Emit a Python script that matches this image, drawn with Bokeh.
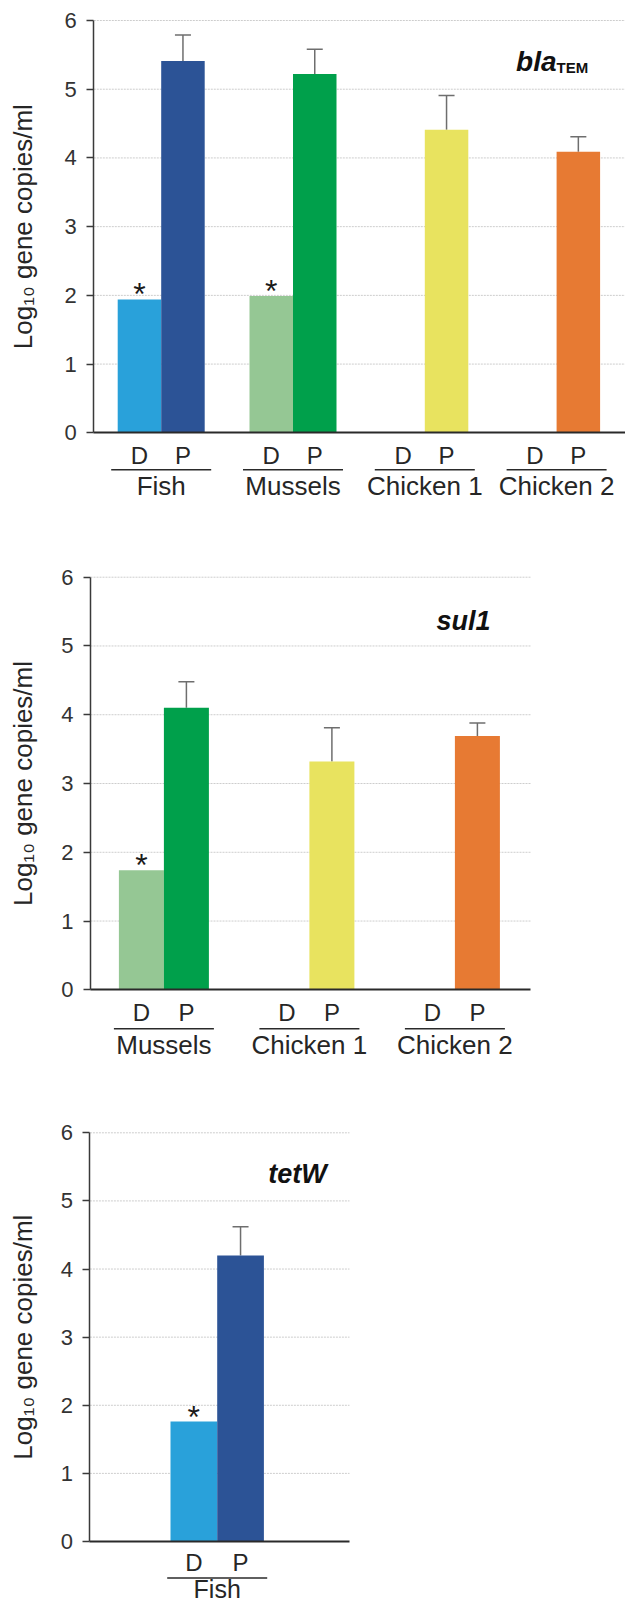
import math
from bokeh.plotting import figure
from bokeh.models import Range1d, FixedTicker, Whisker, TeeHead, ColumnDataSource, LinearAxis
from bokeh.layouts import column
from bokeh.embed import file_html
from bokeh.resources import INLINE
from bokeh.core.properties import value

# ---------------- data ----------------
# blaTEM panel
bla_groups = ["Fish", "Mussels", "Chicken 1", "Chicken 2"]
bla_D = [1.94, 1.99, None, None]          # None = not detected
bla_P = [5.41, 5.22, 4.41, 4.09]
bla_P_err = [0.38, 0.36, 0.50, 0.22]
bla_D_star = [True, True, False, False]

# sul1 panel
sul1_groups = ["Mussels", "Chicken 1", "Chicken 2"]
sul1_D = [1.74, None, None]
sul1_P = [4.10, 3.32, 3.69]
sul1_P_err = [0.38, 0.49, 0.19]
sul1_D_star = [True, False, False]

# tetW panel
tetW_groups = ["Fish"]
tetW_D = [1.76]
tetW_P = [4.20]
tetW_P_err = [0.42]
tetW_D_star = [True]

group_D_color = {"Fish": "#29a1da", "Mussels": "#95c794", "Chicken 1": "#e8e35f", "Chicken 2": "#e77a33"}
group_P_color = {"Fish": "#2c5396", "Mussels": "#00a04b", "Chicken 1": "#e8e35f", "Chicken 2": "#e77a33"}

y_ticks = [0, 1, 2, 3, 4, 5, 6]
sub_labels = ["D", "P"]
y_label = "Log\u2081\u2080 gene copies/ml"

FONT = "Liberation Sans"
TXT = "#262626"
W = 625


def make_chart(groups, d_vals, p_vals, p_errs, stars, title_main, title_sub,
               S, center0_px, axis_px, right_px, v6_px, v0_px, top_px, H, bar_px,
               title_px, title_py, d_below, u_below, g_below, g_size="26px"):
    # layout geometry (page pixels -> data units)
    U = (v0_px - v6_px) / 6.0
    x_axis = 0.5 - (center0_px - axis_px) / S
    x_start = x_axis - axis_px / S
    x_end = x_axis + (W - axis_px) / S
    x_right = x_axis + (right_px - axis_px) / S
    y_end = 6 + (v6_px - top_px) / U
    y_start = -(top_px + H - v0_px) / U
    bar_w = bar_px / S

    def dx(px):
        return x_start + px / S

    def dy(py):
        return y_end - (py - top_px) / U

    p = figure(width=W, height=H, x_range=Range1d(x_start, x_end),
               y_range=Range1d(y_start, y_end), output_backend="svg",
               toolbar_location=None, tools="", x_axis_location=None,
               y_axis_location=None, min_border=0)
    p.outline_line_color = None
    p.xgrid.visible = False
    p.ygrid.visible = False

    # grid lines (dotted, light)
    gt = y_ticks[1:]
    p.segment(x0=[x_axis] * len(gt), x1=[x_right] * len(gt), y0=gt, y1=gt,
              line_color="#cdcdcd", line_width=1, line_dash="2 1")

    centers = [i + 0.5 for i in range(len(groups))]

    # D bars (only where detected)
    bx, btop, bcol = [], [], []
    for c, g, v in zip(centers, groups, d_vals):
        if v is not None:
            bx.append(c - bar_w / 2)
            btop.append(v)
            bcol.append(group_D_color[g])
    p.vbar(x=bx, top=btop, bottom=0, width=bar_w, fill_color=bcol, line_color=None)

    # P bars
    pxs = [c + bar_w / 2 for c in centers]
    pcol = [group_P_color[g] for g in groups]
    p.vbar(x=pxs, top=p_vals, bottom=0, width=bar_w, fill_color=pcol, line_color=None)

    # error bars (upper only)
    esrc = ColumnDataSource(dict(x=pxs, lower=p_vals,
                                 upper=[v + e for v, e in zip(p_vals, p_errs)]))
    p.add_layout(Whisker(base="x", lower="lower", upper="upper", source=esrc,
                         dimension="height", line_color="#6e6e6e", line_width=1.5,
                         lower_head=None,
                         upper_head=TeeHead(size=16, line_color="#6e6e6e", line_width=1.5)))

    # axes placed at fixed data locations
    yax = LinearAxis(fixed_location=x_axis, bounds=(0, 6), ticker=FixedTicker(ticks=y_ticks))
    yax.minor_tick_line_color = None
    yax.major_tick_in = 0
    yax.major_tick_out = 7
    yax.major_tick_line_color = "#3a3a3a"
    yax.major_tick_line_width = 1.5
    yax.axis_line_color = "#3a3a3a"
    yax.axis_line_width = 1.5
    yax.major_label_text_font = FONT
    yax.major_label_text_font_size = "22px"
    yax.major_label_text_color = "#333333"
    yax.major_label_standoff = 10
    p.add_layout(yax, "left")

    xax = LinearAxis(fixed_location=0, bounds=(x_axis, x_right), ticker=FixedTicker(ticks=[]))
    xax.minor_tick_line_color = None
    xax.major_tick_line_color = None
    xax.axis_line_color = "#2a2a2a"
    xax.axis_line_width = 2
    xax.major_label_text_font_size = "0px"
    p.add_layout(xax, "below")

    # y-axis title (rotated)
    p.text(x=[dx(22)], y=[3.0], text=[y_label], angle=math.pi / 2,
           text_align="center", text_baseline="middle", text_font=value(FONT),
           text_font_size="26px", text_color=TXT)

    # significance asterisks
    sx, sy = [], []
    for c, v, s in zip(centers, d_vals, stars):
        if s and v is not None:
            sx.append(c - bar_w / 2)
            sy.append(v + 5.0 / U)
    p.text(x=sx, y=sy, text=["*"] * len(sx), text_align="center",
           text_baseline="alphabetic", text_font=value(FONT), text_font_size="32px",
           text_color="#1a1a1a")

    # category labels below the axis
    lx, ltxt = [], []
    for c in centers:
        lx += [c - bar_w / 2, c + bar_w / 2]
        ltxt += sub_labels
    p.text(x=lx, y=[-d_below / U] * len(lx), text=ltxt, text_align="center",
           text_baseline="middle", text_font=value(FONT), text_font_size="24px",
           text_color=TXT)
    uh = 50.0 / S
    p.segment(x0=[c - uh for c in centers], x1=[c + uh for c in centers],
              y0=[-u_below / U] * len(centers), y1=[-u_below / U] * len(centers),
              line_color="#2a2a2a", line_width=1.6)
    p.text(x=centers, y=[-g_below / U] * len(centers), text=groups, text_align="center",
           text_baseline="middle", text_font=value(FONT), text_font_size=g_size,
           text_color=TXT)

    # gene title
    if title_sub:
        p.text(x=[dx(title_px)], y=[dy(title_py)], text=[title_main], text_align="right",
               text_baseline="alphabetic", text_font=value(FONT),
               text_font_style="bold italic", text_font_size="28px", text_color="#111111")
        p.text(x=[dx(title_px)], y=[dy(title_py + 6)], text=[title_sub], text_align="left",
               text_baseline="alphabetic", text_font=value(FONT),
               text_font_style="bold", text_font_size="15px", text_color="#111111")
    else:
        p.text(x=[dx(title_px)], y=[dy(title_py)], text=[title_main], text_align="center",
               text_baseline="alphabetic", text_font=value(FONT),
               text_font_style="bold italic", text_font_size="27px", text_color="#111111")
    return p


p1 = make_chart(bla_groups, bla_D, bla_P, bla_P_err, bla_D_star, "bla", "TEM",
                S=131.8, center0_px=160.7, axis_px=93.3, right_px=625, v6_px=20,
                v0_px=432.3, top_px=0, H=560, bar_px=43.5, title_px=556, title_py=61,
                d_below=22.5, u_below=37, g_below=53)

p2 = make_chart(sul1_groups, sul1_D, sul1_P, sul1_P_err, sul1_D_star, "sul1", None,
                S=145.5, center0_px=163.4, axis_px=90, right_px=530, v6_px=576.7,
                v0_px=989.3, top_px=560, H=556, bar_px=45, title_px=463, title_py=620,
                d_below=23, u_below=39, g_below=55)

p3 = make_chart(tetW_groups, tetW_D, tetW_P, tetW_P_err, tetW_D_star, "tetW", None,
                S=145.25, center0_px=216.7, axis_px=89.4, right_px=349, v6_px=1132.3,
                v0_px=1541, top_px=1116, H=491, bar_px=46.7, title_px=297, title_py=1173,
                d_below=21, u_below=36.5, g_below=47, g_size="25px")

layout = column(p1, p2, p3)
open("out.html", "w").write(file_html(layout, INLINE))
